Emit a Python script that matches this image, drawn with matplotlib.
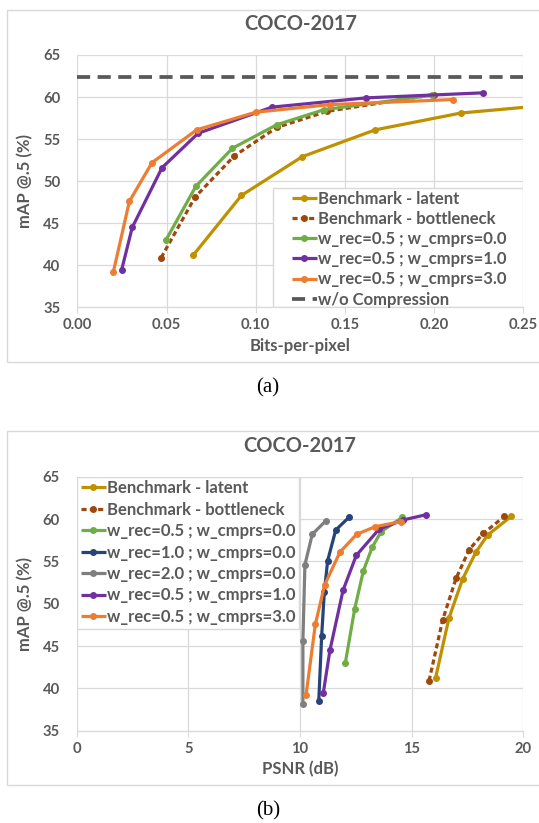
import matplotlib
matplotlib.use('Agg')
import matplotlib.pyplot as plt
from matplotlib.patches import Rectangle

plt.rcParams['font.family'] = ['Lato', 'DejaVu Sans']

# ---- data ----
no_compression = 62.4

# Benchmark - latent
bpp_latent = [0.065, 0.092, 0.126, 0.167, 0.215, 0.33]
psnr_latent = [16.07, 16.67, 17.28, 17.88, 18.40, 19.45]
map_latent = [41.2, 48.3, 52.9, 56.1, 58.1, 60.3]

# Benchmark - bottleneck
bpp_bottleneck = [0.047, 0.066, 0.088, 0.112, 0.140, 0.200]
psnr_bottleneck = [15.78, 16.39, 16.99, 17.58, 18.21, 19.15]
map_bottleneck = [40.9, 48.1, 53.0, 56.4, 58.3, 60.3]

# w_rec=0.5 ; w_cmprs=0.0
bpp_r05_c0 = [0.0497, 0.0665, 0.0869, 0.1117, 0.1383, 0.1986]
psnr_r05_c0 = [12.03, 12.45, 12.84, 13.24, 13.63, 14.58]
map_r05_c0 = [43.0, 49.4, 53.9, 56.7, 58.5, 60.2]

# w_rec=1.0 ; w_cmprs=0.0 (PSNR plot only)
psnr_r10_c0 = [10.84, 10.97, 11.09, 11.24, 11.60, 12.19]
map_r10_c0 = [38.5, 46.2, 51.4, 55.1, 58.7, 60.2]

# w_rec=2.0 ; w_cmprs=0.0 (PSNR plot only)
psnr_r20_c0 = [10.13, 10.13, 10.22, 10.55, 11.16]
map_r20_c0 = [38.2, 45.6, 54.6, 58.2, 59.8]

# w_rec=0.5 ; w_cmprs=1.0
bpp_r05_c1 = [0.0248, 0.0308, 0.0475, 0.0678, 0.1091, 0.1618, 0.2272]
psnr_r05_c1 = [11.04, 11.34, 11.93, 12.52, 13.54, 14.63, 15.63]
map_r05_c1 = [39.4, 44.5, 51.6, 55.7, 58.8, 59.9, 60.5]

# w_rec=0.5 ; w_cmprs=3.0
bpp_r05_c3 = [0.0202, 0.0292, 0.0419, 0.0669, 0.1000, 0.1416, 0.2104]
psnr_r05_c3 = [10.27, 10.69, 11.10, 11.79, 12.54, 13.37, 14.52]
map_r05_c3 = [39.2, 47.6, 52.2, 56.1, 58.2, 59.1, 59.7]

bpp_ticks = [0.00, 0.05, 0.10, 0.15, 0.20, 0.25]
psnr_ticks = [0, 5, 10, 15, 20]
map_ticks = [35, 40, 45, 50, 55, 60, 65]

GOLD = '#BF9000'
BROWN = '#9E480E'
GREEN = '#70AD47'
NAVY = '#264478'
GRAY = '#7F7F7F'
PURPLE = '#7030A0'
ORANGE = '#ED7D31'
DARK = '#595959'
GRID = '#D9D9D9'

LW = 2.3
MS = 4.0
DASH = (0, (1.6, 1.0))
LEG_FONT = {'weight': 'bold', 'size': 12}


def style_axes(ax, xticks, xlabel, xfmt):
    ax.set_ylim(35, 65)
    ax.set_yticks(map_ticks)
    ax.set_xticks(xticks)
    ax.set_xticklabels([xfmt.format(t) for t in xticks])
    ax.grid(True, color=GRID, linewidth=0.9)
    ax.set_axisbelow(True)
    for s in ['top', 'right', 'left']:
        ax.spines[s].set_visible(False)
    ax.spines['bottom'].set_color(GRID)
    ax.spines['bottom'].set_linewidth(0.9)
    ax.tick_params(axis='x', colors=DARK, length=4, color=GRID, labelsize=10.6, pad=4)
    ax.tick_params(axis='y', colors=DARK, length=0, labelsize=10.6, pad=12)
    for lab in ax.get_xticklabels() + ax.get_yticklabels():
        lab.set_fontweight('bold')
    ax.set_xlabel(xlabel, fontsize=12, fontweight='bold', color=DARK, labelpad=4)
    ax.set_ylabel('mAP @.5 (%)', fontsize=12, fontweight='bold', color=DARK, labelpad=7)
    ax.set_title('COCO-2017', fontsize=14.5, fontweight='bold', color=DARK, pad=18)


def series(ax, x, y, color, label, ls='-'):
    ax.plot(x, y, color=color, linestyle=ls, linewidth=LW, marker='o',
            markersize=MS, label=label, solid_capstyle='butt')


def legend_box(ax, box, anchor, spacing):
    # Excel-style legend: a white box larger than its entries
    ax.add_patch(Rectangle(box[:2], box[2], box[3], transform=ax.transAxes,
                           facecolor='white', edgecolor=GRID, linewidth=1.0,
                           zorder=1.5))
    leg = ax.legend(loc='upper left', bbox_to_anchor=anchor, borderaxespad=0,
                    borderpad=0, handlelength=1.5, handletextpad=0.1,
                    labelspacing=spacing, frameon=False, prop=LEG_FONT)
    for t in leg.get_texts():
        t.set_color(DARK)


fig = plt.figure(figsize=(5.39, 8.23), dpi=100)

# frames around the two charts
for y0, y1 in [(10, 362), (431, 785)]:
    fig.patches.append(Rectangle((7 / 539, 1 - y1 / 823), 1.0, (y1 - y0) / 823,
                                 transform=fig.transFigure, fill=False,
                                 edgecolor=GRID, linewidth=1.0))

# ---- (a) mAP vs bits-per-pixel ----
ax1 = fig.add_axes([77.3 / 539, 1 - 307.3 / 823, 446 / 539, 252.3 / 823])
series(ax1, bpp_latent, map_latent, GOLD, 'Benchmark - latent')
series(ax1, bpp_bottleneck, map_bottleneck, BROWN, 'Benchmark - bottleneck', DASH)
series(ax1, bpp_r05_c0, map_r05_c0, GREEN, 'w_rec=0.5 ; w_cmprs=0.0')
series(ax1, bpp_r05_c1, map_r05_c1, PURPLE, 'w_rec=0.5 ; w_cmprs=1.0')
series(ax1, bpp_r05_c3, map_r05_c3, ORANGE, 'w_rec=0.5 ; w_cmprs=3.0')
ax1.plot([0, 0.25], [no_compression, no_compression], color=DARK, linewidth=LW + 0.4,
         linestyle=(0, (3.5, 2.0)), label='w/o Compression')
ax1.set_xlim(0, 0.25)
style_axes(ax1, bpp_ticks, 'Bits-per-pixel', '{:.2f}')
legend_box(ax1, (0.4395, 0.0, 0.5605, 0.4717), (0.4807, 0.462), 0.25)

# ---- (b) mAP vs PSNR ----
ax2 = fig.add_axes([76.7 / 539, 1 - 730.7 / 823, 446.6 / 539, 254 / 823])
series(ax2, psnr_latent, map_latent, GOLD, 'Benchmark - latent')
series(ax2, psnr_bottleneck, map_bottleneck, BROWN, 'Benchmark - bottleneck', DASH)
series(ax2, psnr_r05_c0, map_r05_c0, GREEN, 'w_rec=0.5 ; w_cmprs=0.0')
series(ax2, psnr_r10_c0, map_r10_c0, NAVY, 'w_rec=1.0 ; w_cmprs=0.0')
series(ax2, psnr_r20_c0, map_r20_c0, GRAY, 'w_rec=2.0 ; w_cmprs=0.0')
series(ax2, psnr_r05_c1, map_r05_c1, PURPLE, 'w_rec=0.5 ; w_cmprs=1.0')
series(ax2, psnr_r05_c3, map_r05_c3, ORANGE, 'w_rec=0.5 ; w_cmprs=3.0')
ax2.set_xlim(0, 20)
style_axes(ax2, psnr_ticks, 'PSNR (dB)', '{:d}')
legend_box(ax2, (0.0, 0.4004, 0.4984, 0.5996), (0.009, 0.986), 0.325)

# captions
fig.text(268 / 539, 1 - 388 / 823, '(a)', ha='center', va='center',
         fontsize=15, family=['Liberation Serif', 'DejaVu Serif'])
fig.text(268 / 539, 1 - 811 / 823, '(b)', ha='center', va='center',
         fontsize=15, family=['Liberation Serif', 'DejaVu Serif'])

fig.savefig('out.png', dpi=100, facecolor='white')
